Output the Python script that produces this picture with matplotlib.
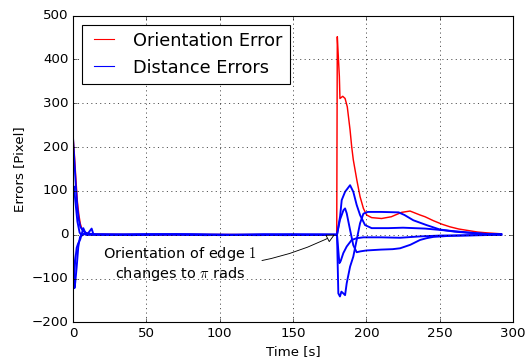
import matplotlib
matplotlib.use("Agg")
import matplotlib.pyplot as plt

plt.style.use("classic")
plt.rcParams["mathtext.fontset"] = "cm"

# ---- data ----
t_orient = [0, 1, 2, 3, 4, 5, 6, 7, 8, 10, 15, 30, 60, 100, 140, 179.8,
            180.2, 181, 181.6, 182, 183.9, 185.5, 187, 188.9, 190, 191.1,
            193.5, 195.7, 198, 200.2, 203.6, 210.4, 217, 224, 229.8, 236.6,
            240, 245.7, 251.5, 257, 263, 268.5, 276, 283, 292]
v_orient = [225, 180, 125, 75, 45, 25, 14, 10, 6, 3, 1, 0.5, 0, 0.5, 0, 0,
            452, 399, 361, 311, 316, 311, 292, 239, 201, 171,
            125, 87, 60, 45, 39, 37, 41, 51, 54, 45,
            41, 32, 24, 18, 13, 10, 6, 4, 2]

t_dist_a = [0, 1, 2, 3, 4, 5, 7, 10, 12.7, 14, 20, 40, 70, 100, 130, 160,
            180, 182.1, 183.2, 185.5, 188.9, 191.1, 193.4, 195.7, 199.1,
            203.6, 215, 225, 240, 250, 260, 270, 280, 292]
v_dist_a = [222, 165, 108, 62, 34, 18, 8, 2, 14, 0, 1, -1, 1, -1, 1, 0,
            0, 42, 79, 98, 113, 98, 68, 45, 22,
            15, 15, 16, 14, 11, 8, 5, 2, 1]

t_dist_b = [0, 0.7, 1.5, 3, 4.5, 6, 8, 20, 50, 90, 120, 150, 180, 182,
            184.4, 185.5, 186.6, 188.9, 191.1, 193.4, 196, 200, 210, 218,
            223, 230, 236.6, 241, 245.7, 255, 268, 280, 292]
v_dist_b = [100, 110, 80, 30, 5, -2, 3, 0, 1, -1, 0, 1, 0, 34,
            56, 60, 49, 11, -24, -40, -38, -36, -34, -33,
            -31, -23, -12, -8, -5, -3, -2, -1, 0]

t_dist_c = [0, 0.5, 1, 1.5, 2.5, 3.6, 4.8, 7, 9, 25, 60, 95, 125, 160, 180,
            180.9, 182, 183, 184.3, 185.5, 186.6, 188.9, 191.1, 193.4,
            195.7, 198, 201, 210, 222, 226, 232, 241, 250, 260, 268.5, 280, 292]
v_dist_c = [-30, -90, -122, -110, -74, -28, -5, 2, 0, 0, 1, 0, -1, 0, 0,
            -134, -141, -130, -134, -138, -111, -73, -50, -12,
            26, 48, 52, 52, 51, 45, 33, 22, 12, 7, 4.6, 2, 1]

t_dist_d = [0, 0.7, 1.5, 2.5, 3.5, 5, 7, 9, 35, 80, 110, 145, 170, 180,
            181.6, 182.5, 184.3, 186.6, 190, 193.4, 198, 210, 223, 236,
            250, 270, 292]
v_dist_d = [-40, -100, -60, -30, -20, -10, 15, 0, 0, 1, 0, -1, 0, 0,
            -65, -60, -42, -27, -12, -8, -6, -6, -7, -4,
            -2, -1, 0]

x_ticks = [0, 50, 100, 150, 200, 250, 300]
y_ticks = [-200, -100, 0, 100, 200, 300, 400, 500]

# ---- figure ----
DPI = 80
fig = plt.figure(figsize=(529 / DPI, 360 / DPI), dpi=DPI, facecolor="white")
ax = fig.add_axes([0.138, 0.1047, 0.8318, 0.8517])

ax.plot(t_orient, v_orient, color="r", lw=1.3, label="Orientation Error")
blue_sets = [(t_dist_a, v_dist_a), (t_dist_b, v_dist_b),
             (t_dist_c, v_dist_c), (t_dist_d, v_dist_d)]
for i, (tt, vv) in enumerate(blue_sets):
    ax.plot(tt, vv, color="b", lw=1.7,
            label="Distance Errors" if i == 0 else "_nolegend_")

ax.set_xlim(0, 300)
ax.set_ylim(-200, 500)
ax.set_xticks(x_ticks)
ax.set_yticks(y_ticks)
ax.grid(True, color="k", linestyle=":", linewidth=0.6)
ax.tick_params(labelsize=12)
ax.set_xlabel("Time [s]", fontsize=12)
ax.set_ylabel("Errors [Pixel]", fontsize=12)

ax.annotate("Orientation of edge $1$\nchanges to $\\pi$ rads",
            xy=(178.5, 0), xytext=(73, -67), ha="center", va="center",
            fontsize=13,
            arrowprops=dict(arrowstyle="-|>", connectionstyle="arc3,rad=0.15",
                            fc="white", ec="k", lw=0.8, mutation_scale=16,
                            shrinkA=2, shrinkB=0))

leg = ax.legend(loc="upper left", fontsize=16, handlelength=1.7)
leg.get_frame().set_linewidth(1.0)
for h in leg.get_lines():
    h.set_linewidth(1.0)

fig.savefig("out.png", dpi=DPI, facecolor="white")
